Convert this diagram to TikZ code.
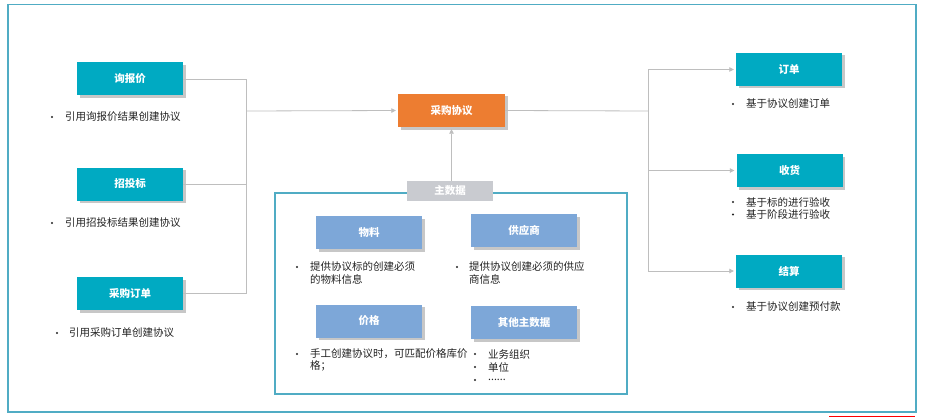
\documentclass[tikz,border=0pt]{standalone}
\usepackage{fontspec}
\setmainfont{Noto Sans CJK SC}
\usetikzlibrary{shadows,arrows.meta}
\definecolor{tealbox}{RGB}{0,170,194}
\definecolor{framec}{RGB}{80,172,196}
\definecolor{orangebox}{RGB}{237,125,49}
\definecolor{bluebox}{RGB}{125,167,216}
\definecolor{graybox}{RGB}{201,203,208}
\definecolor{linec}{RGB}{190,190,190}
\definecolor{textc}{RGB}{35,35,35}
\begin{document}
\begin{tikzpicture}[x=1pt,y=-1pt,
  box/.style={minimum width=106pt, minimum height=33pt, inner sep=0pt,
    font=\bfseries\fontsize{10.5}{12}\selectfont, text=white,
    drop shadow={shadow xshift=2.5pt, shadow yshift=-2.5pt, fill=black!22, opacity=1}},
  tealb/.style={box, fill=tealbox},
  blueb/.style={box, fill=bluebox},
  txt/.style={anchor=west, inner sep=0pt, font=\fontsize{10.5}{12}\selectfont, text=textc},
  dot/.style={circle, fill=textc, inner sep=0pt, minimum size=2.4pt},
  conn/.style={draw=linec, line width=0.8pt},
  arr/.style={conn, -{Triangle[width=4.5pt,length=4.5pt]}, color=linec, shorten >=2pt}
]
\useasboundingbox (0,0) rectangle (928,417);
\fill[white] (0,0) rectangle (928,417);
\draw[framec, line width=1.2pt] (8,4.5) rectangle (916,412);
\draw[red, line width=1pt] (829,416.3) -- (915,416.3);

% left boxes
\node[tealb] (xbj) at (130,79) {询报价};
\node[tealb] (zbb) at (130,184) {招投标};
\node[tealb] (cgdd) at (130,293.5) {采购订单};
% center
\node[box, fill=orangebox, minimum width=107pt] (cgxy) at (451.5,110.5) {采购协议};
% right boxes
\node[tealb] (dd) at (789,69.5) {订单};
\node[tealb] (sh) at (789.5,170.5) {收货};
\node[tealb] (js) at (789,271) {结算};

% master data frame
\draw[framec, line width=1.2pt] (275,193) rectangle (627,394);
\node[fill=graybox, minimum width=86pt, minimum height=20pt, inner sep=0pt,
  font=\bfseries\fontsize{10.5}{12}\selectfont, text=white] (zsj) at (450,191) {主数据};
\node[blueb] (wl) at (369,232.5) {物料};
\node[blueb] (gys) at (524,230.5) {供应商};
\node[blueb] (jg) at (369,321) {价格};
\node[blueb] (qt) at (524,322.5) {其他主数据};

% connectors
\coordinate (lj) at (246,111);
\coordinate (rj) at (648,111);
\draw[conn] (xbj.east) -| (lj);
\draw[conn] (zbb.east) -| (lj);
\draw[conn] (cgdd.east) -| (lj);
\draw[arr] (lj) -- (cgxy.west);
\draw[conn] (cgxy.east) -- (rj);
\draw[arr] (rj) |- (dd.west);
\draw[arr] (rj) |- (sh.west);
\draw[arr] (rj) |- (js.west);
\draw[arr] (cgxy.south |- zsj.north) -- (cgxy.south);

% left texts
\node[dot] (d1) at (52,117) {};
\node[txt] (t1) at (65,117) {引用询报价结果创建协议};
\node[dot] (d2) at (52,223) {};
\node[txt] (t2) at (65,223) {引用招投标结果创建协议};
\node[dot] (d3) at (57,333) {};
\node[txt] (t3) at (69,333) {引用采购订单创建协议};

% right texts
\node[dot] (d4) at (733,104) {};
\node[txt] (t4) at (746,104) {基于协议创建订单};
\node[dot] (d5) at (733,202) {};
\node[txt] (t5) at (746,202) {基于标的进行验收};
\node[dot] (d6) at (733,214.5) {};
\node[txt] (t6) at (746,214.5) {基于阶段进行验收};
\node[dot] (d7) at (733,307) {};
\node[txt] (t7) at (746,307) {基于协议创建预付款};

% master data texts
\node[dot] (d8) at (297,267) {};
\node[txt] (t8) at (310,267) {提供协议标的创建必须};
\node[txt] (t8b) at (310,279) {的物料信息};
\node[dot] (d9) at (457,267) {};
\node[txt] (t9) at (469,267) {提供协议创建必须的供应};
\node[txt] (t9b) at (469,279) {商信息};
\node[dot] (d10) at (297,354) {};
\node[txt] (t10) at (310,354) {手工创建协议时，可匹配价格库价};
\node[txt] (t10b) at (310,366) {格；};
\node[dot] (d11) at (475,354) {};
\node[txt] (t11) at (488,354) {业务组织};
\node[dot] (d12) at (475,367) {};
\node[txt] (t12) at (488,367) {单位};
\node[dot] (d13) at (475,380) {};
\node[txt] (t13) at (488,380) {......};
\end{tikzpicture}
\end{document}
